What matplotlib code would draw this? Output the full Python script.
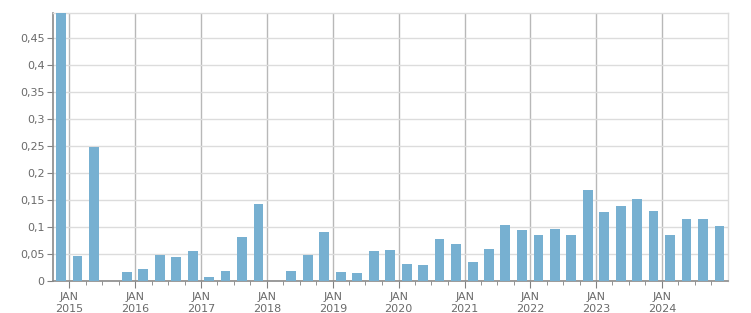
import datetime as dt
import matplotlib
matplotlib.use("Agg")
import matplotlib.pyplot as plt
import matplotlib.dates as mdates
from matplotlib.ticker import FixedLocator, FuncFormatter

# quarterly values, Q4 2014 .. Q4 2024
first_quarter = (2014, 4)
values = [0.50, 0.047, 0.249, 0.0,
          0.017, 0.023, 0.049, 0.045,
          0.056, 0.008, 0.019, 0.082,
          0.143, 0.0, 0.019, 0.049,
          0.091, 0.017, 0.015, 0.056,
          0.058, 0.032, 0.030, 0.078,
          0.069, 0.036, 0.060, 0.104,
          0.095, 0.086, 0.097, 0.086,
          0.169, 0.128, 0.138, 0.152,
          0.130, 0.086, 0.114, 0.115,
          0.102]
years = list(range(2015, 2025))
yticks = [0, 0.05, 0.1, 0.15, 0.2, 0.25, 0.3, 0.35, 0.4, 0.45]

bar_color = "#77b0d1"
label_color = "#6a6a6a"


def quarter_mid(i):
    y, q = first_quarter
    q = q - 1 + i
    y += q // 4
    q = q % 4
    start = dt.date(y, 3 * q + 1, 1)
    return start + dt.timedelta(days=45)


dates = [quarter_mid(i) for i in range(len(values))]

fig = plt.figure(figsize=(7.51, 3.13), dpi=100)
ax = fig.add_axes([53 / 751, 32 / 313, 675 / 751, 268 / 313])

ax.bar(dates, values, width=55, color=bar_color, zorder=3)

ax.set_xlim(dt.date(2014, 10, 2), dt.date(2025, 1, 1))
ax.set_ylim(0, 0.4963)

# grid
ax.set_yticks(yticks)
ax.yaxis.grid(True, color="#dcdcdc", linewidth=1, zorder=0)
year_dates = [mdates.date2num(dt.date(y, 1, 1)) for y in years]
ax.xaxis.set_major_locator(FixedLocator(year_dates))
ax.xaxis.set_minor_locator(mdates.MonthLocator(bymonth=[4, 7, 10]))
ax.xaxis.grid(True, which="major", color="#b8b8b8", linewidth=1, zorder=1)
ax.set_xticklabels([f"JAN\n{y}" for y in years])

ax.yaxis.set_major_formatter(FuncFormatter(lambda v, p: ("%g" % round(v, 2)).replace(".", ",")))

ax.tick_params(axis="both", labelsize=8, colors="#808080", labelcolor=label_color)
ax.tick_params(axis="x", which="major", length=5, pad=3)
ax.tick_params(axis="x", which="minor", length=3, color="#808080")
ax.tick_params(axis="y", length=4, pad=2)

for s in ["left", "bottom"]:
    ax.spines[s].set_color("#8a8a8a")
    ax.spines[s].set_linewidth(1.2)
for s in ["top", "right"]:
    ax.spines[s].set_color("#dcdcdc")
    ax.spines[s].set_linewidth(1)

fig.savefig("out.png", dpi=100)
